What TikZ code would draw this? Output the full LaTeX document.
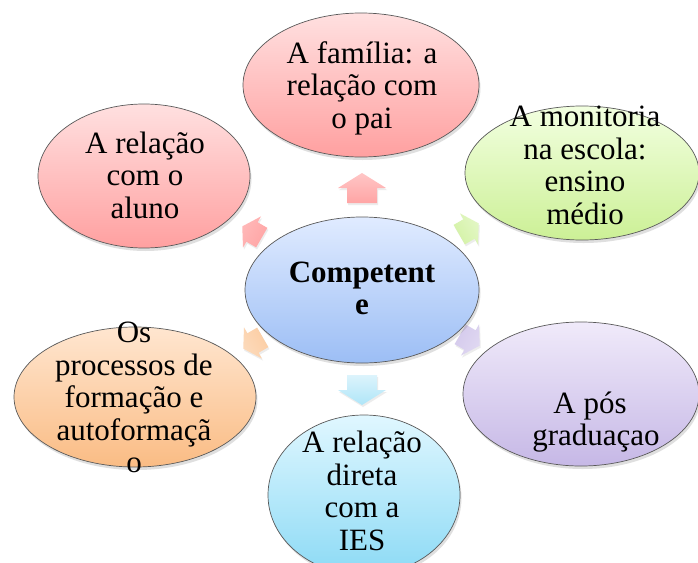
\documentclass[tikz,border=0pt]{standalone}
\usepackage{fontspec}
\setmainfont{Liberation Serif}
\usetikzlibrary{shapes.geometric,shadows}
\definecolor{pinkT}{RGB}{255,224,224}
\definecolor{pinkB}{RGB}{255,160,160}
\definecolor{greenT}{RGB}{242,255,224}
\definecolor{greenB}{RGB}{204,240,150}
\definecolor{purpleT}{RGB}{240,234,250}
\definecolor{purpleB}{RGB}{198,184,230}
\definecolor{orangeT}{RGB}{255,230,208}
\definecolor{orangeB}{RGB}{250,188,132}
\definecolor{cyanT}{RGB}{224,247,255}
\definecolor{cyanB}{RGB}{140,218,245}
\definecolor{blueT}{RGB}{224,235,255}
\definecolor{blueB}{RGB}{156,190,245}
\newcommand\blockarr[6]{%
  \begin{scope}[shift={(#1,#2)}, rotate=#3, scale=#4]
    \shade[top color=#5, bottom color=#6, shading angle=#3-90,
      drop shadow={opacity=0.15, shadow xshift=1pt, shadow yshift=-2pt}]
      (-15,-15) -- (0,-15) -- (0,-24) -- (15,0) -- (0,24) -- (0,15) -- (-15,15) -- cycle;
  \end{scope}}
\begin{document}
\begin{tikzpicture}[x=1pt,y=-1pt,
  bubble/.style={ellipse, draw=black!65, line width=0.7pt, inner sep=0pt,
    drop shadow={opacity=0.25, shadow xshift=1.5pt, shadow yshift=-3pt}},
  txt/.style={font=\fontsize{31}{32.5}\selectfont, align=center, inner sep=0pt}]
\useasboundingbox (0,0) rectangle (698,562);
\clip (0,0) rectangle (698,562);
\fill[white] (0,0) rectangle (698,562);
% arrows
\blockarr{362}{188}{90}{1}{pinkB!60}{pinkB!95}
\blockarr{362}{390}{-90}{1}{cyanB!70}{cyanB!30}
\blockarr{252}{232}{150}{0.75}{pinkB!75}{pinkB!95}
\blockarr{469}{229}{30}{0.75}{greenB!55}{greenB!85}
\blockarr{253}{343}{210}{0.75}{orangeB!55}{orangeB!75}
\blockarr{470}{340}{-30}{0.75}{purpleB!55}{purpleB!75}
% outer ellipses
\node[bubble, minimum width=236pt, minimum height=144pt, top color=pinkT, bottom color=pinkB] (fam) at (361,85) {};
\node[bubble, minimum width=234pt, minimum height=134pt, top color=greenT, bottom color=greenB] (mon) at (582,173) {};
\node[bubble, minimum width=236pt, minimum height=144pt, top color=purpleT, bottom color=purpleB] (pos) at (581,394) {};
\node[bubble, minimum width=192pt, minimum height=160pt, top color=cyanT, bottom color=cyanB] (ies) at (364,495) {};
\node[bubble, minimum width=242pt, minimum height=140pt, top color=orangeT, bottom color=orangeB] (proc) at (135,397) {};
\node[bubble, minimum width=212pt, minimum height=144pt, top color=pinkT, bottom color=pinkB] (alu) at (144,176) {};
% center
\node[bubble, minimum width=234pt, minimum height=146pt, top color=blueT, bottom color=blueB] (comp) at (362,290) {};
% texts
\node[txt] (famt) at (362,89) {\strut A família: a\\relação com\\o pai\strut};
\node[txt] (mont) at (585,169) {\strut A monitoria\\na escola:\\ensino\\médio\strut};
\node[txt] (post) at (596,423) {\strut A pós\kern12pt\null\\graduaçao\strut};
\node[txt] (iest) at (362,495) {\strut A relação\\direta\\com a\\IES\strut};
\node[txt] (proct) at (134,401) {\strut Os\\processos de\\formação e\\autoformaçã\\o\strut};
\node[txt] (alut) at (145,179) {\strut A relação\\com o\\aluno\strut};
\node[txt, font=\fontsize{31}{32.5}\selectfont\bfseries] (compt) at (362,292) {\strut Competent\\e\strut};
\end{tikzpicture}
\end{document}
